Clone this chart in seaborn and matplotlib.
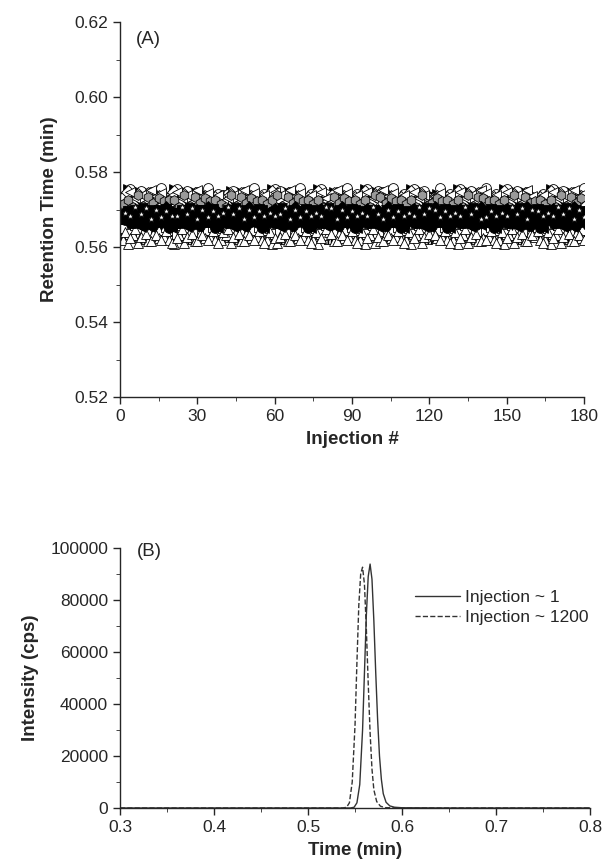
import numpy as np
import pandas as pd
import seaborn as sns
import matplotlib.pyplot as plt
from matplotlib.ticker import MultipleLocator, FormatStrFormatter

# Panel A - retention time of each compound over 180 injections
# every compound is stored as a base time plus a digit string of small deviations
# (digit 0-9 -> offset of (d - 4.5) * 0.0004 min), one digit every second injection
INJ_ODD = list(range(1, 180, 2))
INJ_EVEN = list(range(2, 181, 2))
STEP = 0.0004

# name, marker, face, base rt, deviation digits, injections
# (drawn in this order)
compounds = [
    ('c05', '>', 'black', 0.5736, "2938475610 9384756102 3847561029 8475610293 4756102938 7561029384 5610293847 6102938475 1029384756", INJ_ODD),
    ('c15', 'o', 'white', 0.5740, "4857263915 8572639154 5726391548 7263915485 2639154857 6391548572 3915485726 9154857263 1548572639", INJ_EVEN),
    ('c16', 'D', 'white', 0.5728, "5927384615 9273846155 2738461559 7384615592 3846155927 8461559273 4615592738 6155927384 1559273846", INJ_ODD),
    ('c17', '<', 'white', 0.5734, "2846195736 8461957362 4619573628 6195736284 1957362846 9573628461 5736284619 7362846195 3628461957", INJ_EVEN),
    ('c13', 'h', '#9a9a9a', 0.5720, "3619284756 6192847563 1928475636 9284756361 2847563619 8475636192 4756361928 7563619284 5636192847", INJ_ODD),
    ('c18', 's', '#d0d0d0', 0.5636, "3728194656 7281946563 2819465637 8194656372 1946563728 9465637281 4656372819 6563728194 5637281946", INJ_ODD),
    ('c19', 's', 'white', 0.5644, "6283941575 2839415756 8394157562 3941575628 9415756283 4157562839 1575628394 5756283941 7562839415", INJ_EVEN),
    ('c20', '^', 'white', 0.5622, "4172938564 1729385644 7293856441 2938564417 9385644172 3856441729 8564417293 5644172938 6441729385", INJ_ODD),
    ('c21', '^', 'white', 0.5630, "7394615280 3946152807 9461528073 4615280739 6152807394 1528073946 5280739461 2807394615 8073946152", INJ_EVEN),
    ('c01', 'o', 'black', 0.5678, "4536271845 3629174538 2614573829 1645372819 4635271849 3652817465 3928174635 2918473625 1849362718", INJ_ODD),
    ('c02', 'v', 'black', 0.5672, "5273648192 6374829156 4738291645 7382916453 8291645372 9164537281 6453728192 5372819463 7281946352", INJ_EVEN),
    ('c03', 's', 'black', 0.5682, "3847261958 4736291847 5628374916 2837461958 3746192837 4619283746 5182937465 1829374651 8293746518", INJ_ODD),
    ('c04', 'D', 'black', 0.5686, "6152847393 5284739261 8473926158 4739261584 7392615847 3926158473 9261584739 2615847392 6158473926", INJ_EVEN),
    ('c06', '<', 'black', 0.5668, "7461829350 4618293507 6182935074 1829350746 8293507461 2935074618 9350746182 3507461829 5074618293", INJ_EVEN),
    ('c07', 'p', 'black', 0.5676, "8127364590 1273645908 2736459081 7364590812 3645908127 6459081273 4590812736 5908127364 9081273645", INJ_EVEN),
    ('c08', 'h', 'black', 0.5680, "3571928460 5719284603 7192846035 1928460357 9284603571 2846035719 8460357192 4603571928 6035719284", INJ_ODD),
    ('c09', 'o', 'black', 0.5670, "6938271450 9382714506 3827145069 8271450693 2714506938 7145069382 1450693827 4506938271 5069382714", INJ_ODD),
    ('c10', 's', 'black', 0.5684, "2481736595 4817365952 8173659524 1736595248 7365952481 3659524817 6595248173 5952481736 9524817365", INJ_EVEN),
    ('c11', 'v', 'black', 0.5686, "5162938470 1629384705 6293847051 2938470516 9384705162 3847051629 8470516293 4705162938 7051629384", INJ_ODD),
    ('c12', 'o', 'black', 0.5674, "4729163858 7291638584 2916385847 9163858472 1638584729 6385847291 3858472916 8584729163 5847291638", INJ_EVEN),
    ('c14', '*', 'white', 0.5690, "5394817263 3948172635 9481726353 4817263539 8172635394 1726353948 7263539481 2635394817 6353948172", INJ_EVEN),
]

# Panel B - chromatograms
t_first = [0.30, 0.50, 0.545, 0.549, 0.552, 0.555, 0.558, 0.560, 0.562, 0.564, 0.566, 0.568,
           0.570, 0.572, 0.574, 0.576, 0.578, 0.580, 0.583, 0.587, 0.592, 0.600, 0.650, 0.80]
i_first = [0, 0, 0, 300, 2000, 9000, 30000, 52000, 74000, 89000, 93800, 88000,
           72000, 52000, 34000, 20000, 11000, 5500, 2200, 800, 300, 100, 0, 0]
t_last = [0.30, 0.50, 0.537, 0.541, 0.544, 0.547, 0.550, 0.552, 0.554, 0.556, 0.558,
          0.560, 0.562, 0.564, 0.566, 0.568, 0.570, 0.573, 0.577, 0.582, 0.60, 0.80]
i_last = [0, 0, 0, 300, 2000, 10000, 32000, 56000, 78000, 90000, 92600,
          86000, 69000, 48000, 29000, 15000, 7000, 2500, 700, 150, 0, 0]

sns.set_style('ticks')
plt.rcParams['font.family'] = ['Liberation Sans', 'DejaVu Sans']
plt.rcParams['xtick.major.size'] = 5
plt.rcParams['ytick.major.size'] = 5
plt.rcParams['xtick.minor.size'] = 3
plt.rcParams['ytick.minor.size'] = 3

fig = plt.figure(figsize=(6.09, 8.64), dpi=100)
axA = fig.add_axes([0.197, 0.5405, 0.762, 0.434])
axB = fig.add_axes([0.197, 0.0648, 0.772, 0.301])

# ---- panel A
for name, mk, face, base, digits, inj in compounds:
    dev = [int(c) for c in digits.replace(' ', '')]
    rt = [base + (d - 4.5) * STEP for d in dev]
    df = pd.DataFrame({'injection': inj[:len(rt)], 'rt': rt})
    kw = {}
    if name == 'c18':
        kw['hatch'] = '|||||'
    sns.scatterplot(data=df, x='injection', y='rt', marker=mk, color=face,
                    edgecolor='black', linewidth=0.6, s=50 if mk != '*' else 30,
                    legend=False, ax=axA, **kw)

axA.set_xlim(0, 180)
axA.set_ylim(0.52, 0.62)
axA.xaxis.set_major_locator(MultipleLocator(30))
axA.xaxis.set_minor_locator(MultipleLocator(15))
axA.yaxis.set_major_locator(MultipleLocator(0.02))
axA.yaxis.set_minor_locator(MultipleLocator(0.01))
axA.yaxis.set_major_formatter(FormatStrFormatter('%.2f'))
axA.set_xlabel('Injection #', fontsize=13.5, fontweight='bold', labelpad=5)
axA.set_ylabel('Retention Time (min)', fontsize=13.5, fontweight='bold', labelpad=12)
axA.text(0.035, 0.975, '(A)', transform=axA.transAxes, fontsize=13.5, va='top')

# ---- panel B
sns.lineplot(x=t_first, y=i_first, color='#333333', linewidth=1.0,
             label='Injection ~ 1', ax=axB)
sns.lineplot(x=t_last, y=i_last, color='#333333', linewidth=1.0, linestyle='--',
             dashes=(3, 2), label='Injection ~ 1200', ax=axB)

axB.set_xlim(0.3, 0.8)
axB.set_ylim(0, 100000)
axB.xaxis.set_major_locator(MultipleLocator(0.1))
axB.xaxis.set_minor_locator(MultipleLocator(0.05))
axB.yaxis.set_major_locator(MultipleLocator(20000))
axB.yaxis.set_minor_locator(MultipleLocator(10000))
axB.xaxis.set_major_formatter(FormatStrFormatter('%.1f'))
axB.set_xlabel('Time (min)', fontsize=13.5, fontweight='bold', labelpad=5)
axB.set_ylabel('Intensity (cps)', fontsize=13.5, fontweight='bold', labelpad=8)
axB.text(0.035, 0.985, '(B)', transform=axB.transAxes, fontsize=13.5, va='center')
axB.legend(loc='upper right', bbox_to_anchor=(1.03, 0.9), frameon=False,
           fontsize=12.5, handlelength=2.6, handletextpad=0.3, labelspacing=0.3)

for ax in (axA, axB):
    sns.despine(ax=ax)
    ax.tick_params(labelsize=12.5, width=1)
    for sp in ax.spines.values():
        sp.set_linewidth(1)

fig.savefig('out.png', dpi=100)
